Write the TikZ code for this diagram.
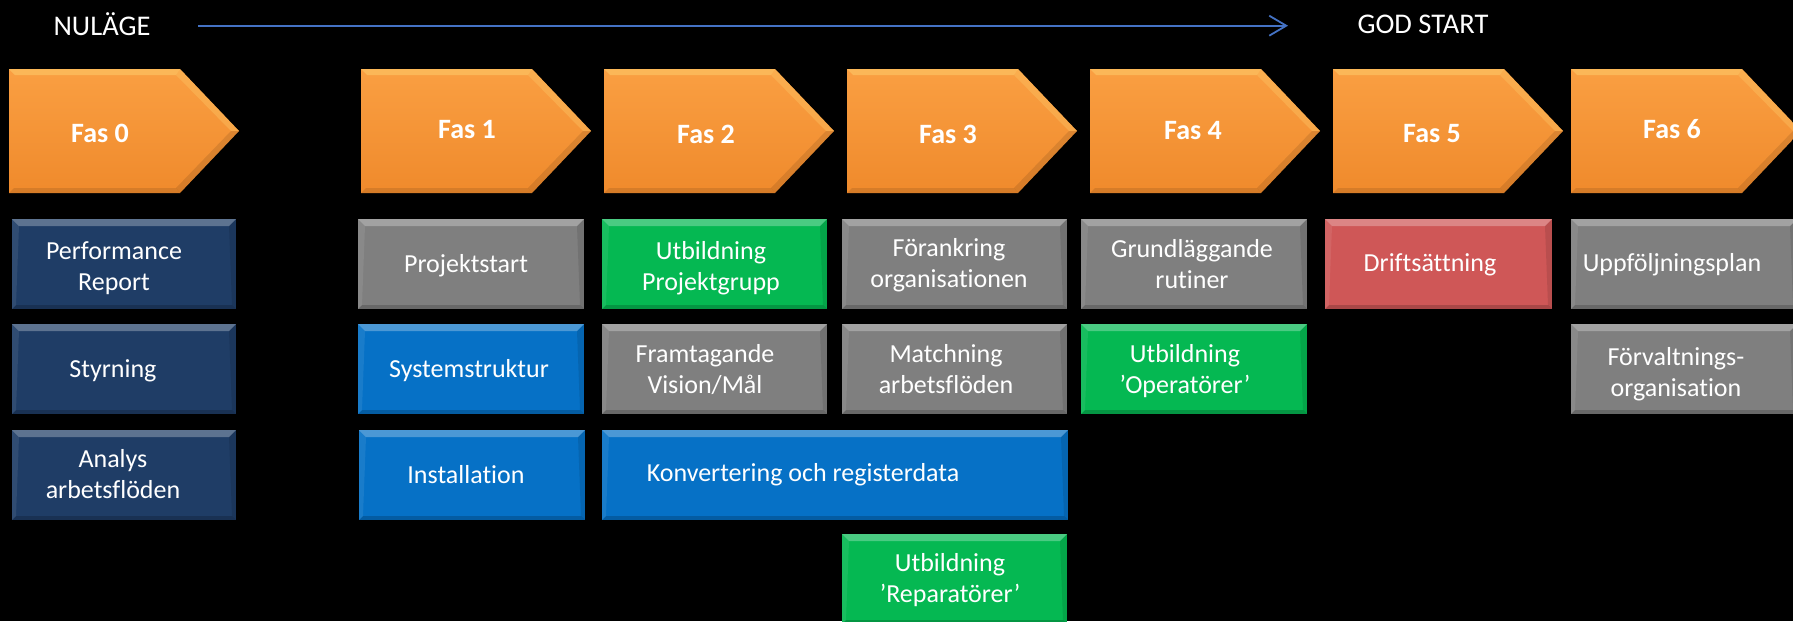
\documentclass[tikz,border=0pt]{standalone}
\usepackage{fontspec}
\setmainfont{Carlito}[Ligatures=NoCommon, Contextuals=NoAlternate]
\usetikzlibrary{arrows.meta}
\definecolor{navy}{HTML}{1F3D66}
\definecolor{greybox}{HTML}{7F7F7F}
\definecolor{bblue}{HTML}{0671C6}
\definecolor{gbox}{HTML}{05B852}
\definecolor{rbox}{HTML}{CF5757}
\definecolor{orngtop}{HTML}{FA9F42}
\definecolor{orngbot}{HTML}{EF8A2C}
\definecolor{orngband}{HTML}{FCC060}
\definecolor{tline}{HTML}{4472C4}
\newcommand\tib{t\kern0pt i}
\tikzset{
  bevelbox/.style={draw=none, inner sep=0pt, outer sep=0pt,
    path picture={
      \fill[white,opacity=0.28] (path picture bounding box.north west) -- (path picture bounding box.north east)
        -- ([shift={(-7pt,-7pt)}]path picture bounding box.north east) -- ([shift={(7pt,-7pt)}]path picture bounding box.north west) -- cycle;
      \fill[black,opacity=0.18] (path picture bounding box.south west) -- (path picture bounding box.south east)
        -- ([shift={(-4pt,4pt)}]path picture bounding box.south east) -- ([shift={(4pt,4pt)}]path picture bounding box.south west) -- cycle;
      \fill[white,opacity=0.08] (path picture bounding box.north west) -- ([shift={(7pt,-7pt)}]path picture bounding box.north west)
        -- ([shift={(4pt,4pt)}]path picture bounding box.south west) -- (path picture bounding box.south west) -- cycle;
      \fill[black,opacity=0.10] (path picture bounding box.north east) -- ([shift={(-7pt,-7pt)}]path picture bounding box.north east)
        -- ([shift={(-4pt,4pt)}]path picture bounding box.south east) -- (path picture bounding box.south east) -- cycle;
    }},
  lbl/.style={text=white, font=\fontsize{26}{31.5}\selectfont, align=center, inner sep=0pt, yshift=-2.3pt},
  faslbl/.style={text=white, font=\bfseries\fontsize{28}{32}\selectfont, inner sep=0pt},
  hdr/.style={text=white, font=\fontsize{28.5}{34}\selectfont, inner sep=0pt},
  timeline/.style={draw=tline, line width=1.8pt, -{Straight Barb[length=17pt,width=20pt]}},
}
% name, x0, y0, x1, y1, colour, text x, text y, text
\newcommand\phasebox[9]{%
  \node[bevelbox, fill=#6, minimum width={(#4-#2)*1pt}, minimum height={(#5-#3)*1pt}] (#1) at ({(#2+#4)/2},{(#3+#5)/2}) {};
  \node[lbl] (#1t) at (#7,#8) {#9};
}
% left x, name, label, label x, label y
\newcommand\fasarrow[5]{%
  \shade[top color=orngtop, bottom color=orngbot] (#1,69) -- ++(171,0) -- ++(59,62) -- ++(-59,62) -- ++(-171,0) -- cycle;
  \fill[orngband,opacity=0.75] (#1,69) -- ++(171,0) -- ++(-4,6) -- ++(-161,0) -- cycle;
  \fill[orngband,opacity=0.45] ({#1+171},69) -- ({#1+230},131) -- ({#1+222},131) -- ({#1+167},75) -- cycle;
  \fill[black,opacity=0.10] ({#1+230},131) -- ({#1+171},193) -- ({#1+167},188) -- ({#1+222},131) -- cycle;
  \fill[black,opacity=0.10] (#1,193) -- ++(171,0) -- ++(-4,-5) -- ++(-162,0) -- cycle;
  \node[faslbl] (#2) at (#4,#5) {#3};
}
\begin{document}
\begin{tikzpicture}[x=1pt,y=-1pt]
\useasboundingbox (0,0) rectangle (1793,621);
\fill[black] (0,0) rectangle (1793,621);
\clip (0,0) rectangle (1793,621);

% header
\node[hdr] (nulage) at (102,24) {NULÄGE};
\node[hdr] (godstart) at (1423,24) {GOD START};
\coordinate (ls) at (198,25.7);
\coordinate (le) at (1288,25.7);
\draw[timeline] (ls) -- (le);

% phase arrows
\fasarrow{9}{f0}{Fas 0}{100}{133}
\fasarrow{361}{f1}{Fas 1}{467}{130}
\fasarrow{604}{f2}{Fas 2}{706}{134}
\fasarrow{847}{f3}{Fas 3}{948}{134}
\fasarrow{1090}{f4}{Fas 4}{1193}{131}
\fasarrow{1333}{f5}{Fas 5}{1432}{134}
\fasarrow{1571}{f6}{Fas 6}{1672}{129}

% column 0
\phasebox{b0a}{12}{219}{236}{309}{navy}{114}{266}{Performance\\Report}
\phasebox{b0b}{12}{324}{236}{414}{navy}{113}{368}{Styrning}
\phasebox{b0c}{12}{430}{236}{520}{navy}{113}{472}{Analys\\arbetsflöden}
% column 1
\phasebox{b1a}{358}{219}{584}{309}{greybox}{466}{263}{Projektstart}
\phasebox{b1b}{358}{324}{584}{414}{bblue}{469}{368}{Systemstruktur}
\phasebox{b1c}{359}{430}{585}{520}{bblue}{466}{472}{Installa\tib on}
% column 2
\phasebox{b2a}{602}{219}{827}{309}{gbox}{711}{266}{Utbildning\\Projektgrupp}
\phasebox{b2b}{602}{324}{827}{414}{greybox}{705}{367}{Framtagande\\Vision/Mål}
\phasebox{b23}{602}{430}{1068}{520}{bblue}{803}{472}{Konvertering och registerdata}
% column 3
\phasebox{b3a}{842}{219}{1067}{309}{greybox}{949}{263}{Förankring\\organisa\tib onen}
\phasebox{b3b}{842}{324}{1067}{414}{greybox}{946}{367}{Matchning\\arbetsflöden}
\phasebox{b3d}{842}{534}{1067}{624}{gbox}{950}{578}{Utbildning\\’Reparatörer’}
% column 4
\phasebox{b4a}{1081}{219}{1307}{309}{greybox}{1192}{262}{Grundläggande\\rutiner}
\phasebox{b4b}{1081}{324}{1307}{414}{gbox}{1185}{369}{Utbildning\\’Operatörer’}
% column 5
\phasebox{b5a}{1325}{219}{1552}{309}{rbox}{1430}{262}{Driftsättning}
% column 6
\phasebox{b6a}{1571}{219}{1797}{309}{greybox}{1672}{262}{Uppföljningsplan}
\phasebox{b6b}{1571}{324}{1797}{414}{greybox}{1676}{372}{Förvaltnings-\\organisa\tib on}
\end{tikzpicture}
\end{document}
